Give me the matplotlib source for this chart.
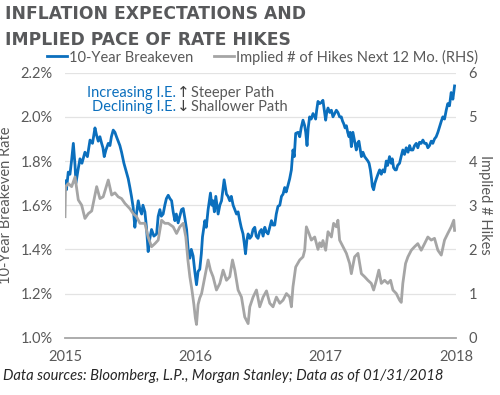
import numpy as np
import matplotlib.pyplot as plt

# 10-year breakeven (left axis, %), time in fractional years
be_t = [2015.000, 2015.011, 2015.025, 2015.038, 2015.050, 2015.064, 2015.077, 2015.084, 2015.100, 2015.115,
        2015.130, 2015.153, 2015.172, 2015.192, 2015.211, 2015.230, 2015.241, 2015.255, 2015.268, 2015.281,
        2015.291, 2015.301, 2015.314, 2015.332, 2015.345, 2015.356, 2015.370, 2015.383, 2015.395, 2015.408,
        2015.421, 2015.434, 2015.452, 2015.473, 2015.485, 2015.498, 2015.510, 2015.523, 2015.536, 2015.548,
        2015.562, 2015.575, 2015.588, 2015.598, 2015.613, 2015.625, 2015.638, 2015.651, 2015.664, 2015.682,
        2015.703, 2015.715, 2015.728, 2015.739, 2015.753, 2015.766, 2015.778, 2015.792, 2015.805, 2015.818,
        2015.830, 2015.843, 2015.854, 2015.868, 2015.881, 2015.894, 2015.907, 2015.920, 2015.933, 2015.945,
        2015.958, 2015.969, 2015.983, 2015.996, 2016.009, 2016.021, 2016.034, 2016.046, 2016.055, 2016.073,
        2016.084, 2016.098, 2016.116, 2016.126, 2016.136, 2016.146, 2016.157, 2016.175, 2016.188, 2016.201,
        2016.221, 2016.239, 2016.251, 2016.264, 2016.276, 2016.290, 2016.303, 2016.316, 2016.328, 2016.341,
        2016.352, 2016.366, 2016.375, 2016.385, 2016.395, 2016.405, 2016.418, 2016.431, 2016.443, 2016.456,
        2016.467, 2016.481, 2016.494, 2016.507, 2016.520, 2016.533, 2016.544, 2016.558, 2016.571, 2016.584,
        2016.596, 2016.609, 2016.621, 2016.634, 2016.648, 2016.661, 2016.673, 2016.686, 2016.697, 2016.711,
        2016.724, 2016.737, 2016.749, 2016.759, 2016.770, 2016.788, 2016.801, 2016.812, 2016.826, 2016.839,
        2016.847, 2016.857, 2016.866, 2016.877, 2016.889, 2016.903, 2016.916, 2016.923, 2016.931, 2016.941,
        2016.954, 2016.967, 2016.979, 2016.992, 2017.000, 2017.008, 2017.018, 2017.031, 2017.044, 2017.056,
        2017.069, 2017.082, 2017.094, 2017.107, 2017.120, 2017.130, 2017.138, 2017.149, 2017.159, 2017.169,
        2017.179, 2017.188, 2017.197, 2017.209, 2017.222, 2017.235, 2017.245, 2017.255, 2017.274, 2017.286,
        2017.299, 2017.312, 2017.324, 2017.333, 2017.343, 2017.352, 2017.358, 2017.368, 2017.378, 2017.389,
        2017.401, 2017.414, 2017.427, 2017.439, 2017.452, 2017.465, 2017.475, 2017.490, 2017.502, 2017.511,
        2017.521, 2017.533, 2017.542, 2017.552, 2017.567, 2017.579, 2017.592, 2017.605, 2017.618, 2017.632,
        2017.644, 2017.655, 2017.669, 2017.682, 2017.695, 2017.707, 2017.720, 2017.733, 2017.746, 2017.759,
        2017.772, 2017.784, 2017.797, 2017.810, 2017.822, 2017.835, 2017.848, 2017.861, 2017.874, 2017.887,
        2017.899, 2017.912, 2017.925, 2017.937, 2017.950, 2017.963, 2017.976, 2017.989]
be_val = [1.71, 1.67, 1.75, 1.74, 1.80, 1.88, 1.78, 1.70, 1.76, 1.81,
          1.79, 1.84, 1.82, 1.895, 1.88, 1.95, 1.92, 1.89, 1.91, 1.88,
          1.86, 1.82, 1.85, 1.88, 1.87, 1.91, 1.94, 1.93, 1.91, 1.89,
          1.87, 1.84, 1.79, 1.745, 1.72, 1.68, 1.64, 1.59, 1.50, 1.56,
          1.62, 1.58, 1.56, 1.60, 1.57, 1.50, 1.39, 1.45, 1.49, 1.46,
          1.47, 1.55, 1.58, 1.55, 1.56, 1.60, 1.63, 1.645, 1.63, 1.62,
          1.57, 1.53, 1.56, 1.52, 1.55, 1.58, 1.585, 1.54, 1.49, 1.40,
          1.36, 1.40, 1.37, 1.30, 1.24, 1.30, 1.31, 1.38, 1.457, 1.53,
          1.50, 1.58, 1.655, 1.60, 1.62, 1.57, 1.64, 1.56, 1.60, 1.62,
          1.715, 1.65, 1.64, 1.62, 1.64, 1.60, 1.58, 1.56, 1.57, 1.53,
          1.50, 1.47, 1.43, 1.38, 1.44, 1.47, 1.45, 1.46, 1.49, 1.50,
          1.46, 1.45, 1.48, 1.49, 1.46, 1.50, 1.48, 1.47, 1.50, 1.53,
          1.51, 1.51, 1.56, 1.595, 1.60, 1.64, 1.65, 1.68, 1.66, 1.69,
          1.72, 1.76, 1.85, 1.82, 1.925, 1.93, 1.91, 1.95, 1.985, 1.96,
          1.93, 1.87, 1.95, 2.00, 1.99, 2.015, 2.00, 1.99, 2.03, 2.07,
          2.06, 2.065, 2.075, 2.02, 1.985, 2.02, 2.04, 2.02, 2.03, 2.00,
          2.015, 2.03, 2.02, 2.00, 2.00, 1.98, 1.97, 1.95, 1.96, 1.93,
          1.91, 1.93, 1.865, 1.93, 1.89, 1.85, 1.88, 1.89, 1.82, 1.84,
          1.82, 1.81, 1.80, 1.79, 1.76, 1.72, 1.685, 1.67, 1.70, 1.72,
          1.74, 1.76, 1.74, 1.76, 1.75, 1.80, 1.78, 1.82, 1.79, 1.81,
          1.77, 1.76, 1.76, 1.78, 1.79, 1.82, 1.85, 1.83, 1.86, 1.84,
          1.87, 1.85, 1.85, 1.87, 1.88, 1.86, 1.885, 1.88, 1.895, 1.88,
          1.88, 1.86, 1.87, 1.89, 1.88, 1.90, 1.91, 1.93, 1.955, 1.98,
          2.00, 1.99, 2.03, 2.06, 2.05, 2.11, 2.08, 2.14]

# implied number of hikes over next 12 months (right axis)
hk_t = [2015.000, 2015.004, 2015.025, 2015.051, 2015.077, 2015.102, 2015.128, 2015.153, 2015.179, 2015.205,
        2015.243, 2015.268, 2015.293, 2015.332, 2015.358, 2015.383, 2015.408, 2015.434, 2015.460, 2015.498,
        2015.523, 2015.549, 2015.575, 2015.613, 2015.638, 2015.664, 2015.690, 2015.715, 2015.741, 2015.766,
        2015.792, 2015.830, 2015.856, 2015.881, 2015.907, 2015.927, 2015.943, 2015.958, 2015.973, 2015.989,
        2016.000, 2016.009, 2016.021, 2016.034, 2016.048, 2016.073, 2016.098, 2016.116, 2016.136, 2016.162,
        2016.188, 2016.213, 2016.239, 2016.264, 2016.285, 2016.303, 2016.328, 2016.354, 2016.379, 2016.405,
        2016.418, 2016.443, 2016.469, 2016.494, 2016.520, 2016.546, 2016.571, 2016.596, 2016.622, 2016.648,
        2016.673, 2016.699, 2016.724, 2016.737, 2016.749, 2016.770, 2016.801, 2016.826, 2016.839, 2016.852,
        2016.872, 2016.890, 2016.916, 2016.941, 2016.954, 2016.967, 2016.979, 2017.000, 2017.018, 2017.044,
        2017.061, 2017.082, 2017.094, 2017.107, 2017.133, 2017.159, 2017.184, 2017.197, 2017.222, 2017.248,
        2017.274, 2017.299, 2017.324, 2017.350, 2017.368, 2017.389, 2017.408, 2017.427, 2017.452, 2017.477,
        2017.498, 2017.516, 2017.542, 2017.567, 2017.580, 2017.592, 2017.613, 2017.631, 2017.657, 2017.682,
        2017.707, 2017.733, 2017.759, 2017.784, 2017.810, 2017.835, 2017.861, 2017.887, 2017.912, 2017.937,
        2017.963, 2017.983, 2017.989]
hk_val = [2.74, 3.42, 3.49, 3.42, 3.64, 3.12, 3.00, 2.70, 2.81, 2.87,
          3.42, 3.15, 3.19, 3.57, 3.23, 3.28, 3.19, 3.15, 3.04, 2.92,
          2.81, 2.74, 2.59, 2.59, 2.28, 2.06, 2.13, 2.21, 2.66, 2.59,
          2.59, 2.51, 2.36, 2.51, 2.59, 2.28, 1.76, 1.38, 1.10, 0.75,
          0.45, 0.30, 0.75, 0.90, 1.00, 1.38, 1.76, 1.53, 1.38, 1.08,
          1.23, 1.53, 1.30, 1.38, 1.76, 1.53, 1.08, 0.92, 0.47, 0.32,
          0.70, 0.92, 1.08, 0.70, 0.92, 1.06, 0.78, 0.70, 0.92, 0.78,
          0.85, 1.00, 0.92, 0.70, 1.15, 1.60, 1.76, 1.83, 1.98, 2.51,
          2.36, 2.21, 2.28, 2.00, 2.15, 2.06, 2.20, 1.98, 2.40, 2.28,
          2.59, 2.51, 2.66, 2.21, 2.06, 1.91, 1.68, 1.45, 1.83, 1.91,
          1.45, 1.38, 1.30, 1.23, 1.08, 1.30, 1.53, 1.23, 1.30, 1.23,
          1.30, 1.08, 1.00, 0.85, 0.80, 1.23, 1.68, 1.83, 1.98, 2.06,
          2.13, 1.98, 2.13, 2.28, 2.21, 2.25, 1.98, 1.87, 2.21, 2.36,
          2.51, 2.66, 2.43]

years = [2015, 2016, 2017, 2018]
left_ticks = [1.0, 1.2, 1.4, 1.6, 1.8, 2.0, 2.2]
right_ticks = [0, 1, 2, 3, 4, 5, 6]

blue = '#0b6fbd'
grey = '#a5a5a5'
txt = '#595959'

plt.rcParams['font.family'] = ['Lato', 'DejaVu Sans']

fig = plt.figure(figsize=(5, 3.95), dpi=100)
ax = fig.add_axes([0.13, 0.145, 0.782, 0.671])
ax2 = ax.twinx()

ax.plot(be_t, be_val, color=blue, lw=2.0, label='10-Year Breakeven')
ax2.plot(hk_t, hk_val, color=grey, lw=2.0, label='Implied # of Hikes Next 12 Mo. (RHS)')

ax.set_xlim(2015, 2018)
ax.set_ylim(1.0, 2.2)
ax2.set_ylim(0, 6)
ax.set_xticks(years)
ax.set_xticklabels([str(y) for y in years])
ax.set_yticks(left_ticks)
ax.set_yticklabels([f'{v:.1f}%' for v in left_ticks])
ax2.set_yticks(right_ticks)
ax.grid(axis='y', color='#e3e3e3', lw=0.9)
ax.set_axisbelow(True)

for a in (ax, ax2):
    for s in a.spines.values():
        s.set_visible(False)
    a.tick_params(length=0, labelsize=10.5, colors=txt)
ax.spines['bottom'].set_visible(True)
ax.spines['bottom'].set_color('#a6a6a6')
ax.spines['bottom'].set_linewidth(1.3)
ax.tick_params(axis='x', pad=9)
ax.tick_params(axis='y', pad=9)
ax2.tick_params(axis='y', pad=9)

ax.set_ylabel('10-Year Breakeven Rate', color=txt, fontsize=10.5, labelpad=5)
ax2.set_ylabel('Implied # Hikes', color=txt, fontsize=10.5, rotation=-90, labelpad=11)

# annotation
ax.text(0.285, 0.925, 'Increasing I.E.', transform=ax.transAxes, ha='right', va='center',
        color=blue, fontsize=10.5)
ax.text(0.285, 0.872, 'Declining I.E.', transform=ax.transAxes, ha='right', va='center',
        color=blue, fontsize=10.5)
ax.text(0.303, 0.925, '\u2191', transform=ax.transAxes, ha='center', va='center',
        color='#404040', fontsize=11, family='DejaVu Sans')
ax.text(0.303, 0.872, '\u2193', transform=ax.transAxes, ha='center', va='center',
        color='#404040', fontsize=11, family='DejaVu Sans')
ax.text(0.322, 0.925, 'Steeper Path', transform=ax.transAxes, ha='left', va='center',
        color=txt, fontsize=10.5)
ax.text(0.322, 0.872, 'Shallower Path', transform=ax.transAxes, ha='left', va='center',
        color=txt, fontsize=10.5)

h1, l1 = ax.get_legend_handles_labels()
h2, l2 = ax2.get_legend_handles_labels()
fig.legend(h1 + h2, l1 + l2, loc='center', bbox_to_anchor=(0.525, 1 - 57 / 395), ncol=2,
           frameon=False, handlelength=1.4, handletextpad=0.15, columnspacing=1.4,
           labelcolor=txt, fontsize=10.5)

fig.text(0.01, 1 - 14 / 395, 'INFLATION EXPECTATIONS AND', fontsize=12.3, fontweight='bold',
         color='#58595b', va='center', ha='left', family='DejaVu Sans')
fig.text(0.01, 1 - 40 / 395, 'IMPLIED PACE OF RATE HIKES', fontsize=12.3, fontweight='bold',
         color='#58595b', va='center', ha='left', family='DejaVu Sans')

fig.text(0.006, 1 - 376 / 395, 'Data sources: Bloomberg, L.P., Morgan Stanley; Data as of 01/31/2018',
         fontsize=10.6, style='italic', color='#262626', va='center', ha='left')

plt.savefig('out.png', dpi=100)
